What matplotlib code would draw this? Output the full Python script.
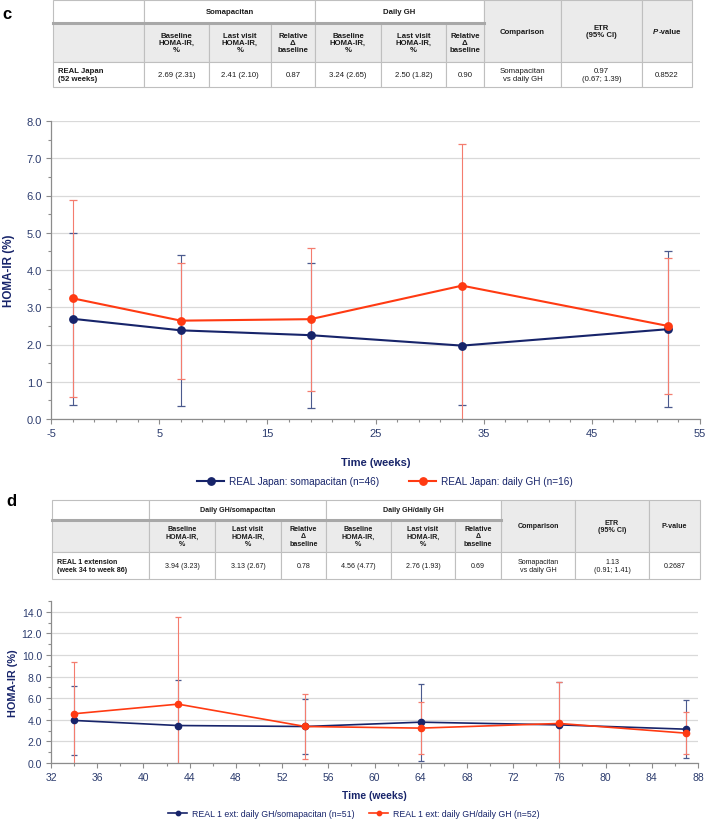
import matplotlib.pyplot as plt
from matplotlib.patches import Rectangle

plt.rcParams['font.family'] = ['Liberation Sans', 'DejaVu Sans']
plt.rcParams['axes.unicode_minus'] = False

# ---- data (panel c: REAL Japan) ----
c_weeks = [-3, 7, 19, 33, 52]
c_soma = [2.69, 2.38, 2.25, 1.97, 2.41]
c_soma_sd = [2.31, 2.02, 1.95, 1.60, 2.10]
c_daily = [3.24, 2.64, 2.68, 3.58, 2.50]
c_daily_sd = [2.65, 1.56, 1.92, 3.81, 1.82]
c_labels = ['REAL Japan: somapacitan (n=46)', 'REAL Japan: daily GH (n=16)']

# ---- data (panel d: REAL 1 extension) ----
d_weeks = [34, 43, 54, 64, 76, 87]
d_soma = [3.94, 3.47, 3.38, 3.78, 3.53, 3.13]
d_soma_sd = [3.23, 4.26, 2.53, 3.55, 3.95, 2.67]
d_daily = [4.56, 5.45, 3.38, 3.23, 3.66, 2.76]
d_daily_sd = [4.77, 8.10, 3.05, 2.43, 3.85, 1.93]
d_labels = ['REAL 1 ext: daily GH/somapacitan (n=51)', 'REAL 1 ext: daily GH/daily GH (n=52)']

# ---- tables ----
sub_headers = ['Baseline\nHOMA-IR,\n%', 'Last visit\nHOMA-IR,\n%', 'Relative\n\u0394\nbaseline'] * 2
right_headers = ['Comparison', 'ETR\n(95% CI)', 'P-value']
c_groups = ['Somapacitan', 'Daily GH']
c_row_label = 'REAL Japan\n(52 weeks)'
c_values = ['2.69 (2.31)', '2.41 (2.10)', '0.87', '3.24 (2.65)', '2.50 (1.82)', '0.90',
            'Somapacitan\nvs daily GH', '0.97\n(0.67; 1.39)', '0.8522']
d_groups = ['Daily GH/somapacitan', 'Daily GH/daily GH']
d_row_label = 'REAL 1 extension\n(week 34 to week 86)'
d_values = ['3.94 (3.23)', '3.13 (2.67)', '0.78', '4.56 (4.77)', '2.76 (1.93)', '0.69',
            'Somapacitan\nvs daily GH', '1.13\n(0.91; 1.41)', '0.2687']

NAVY = '#17246A'
RED = '#FF3A12'
NAVY_ERR = '#4B5A8E'
RED_ERR = '#F47C6E'
TICK = '#2C3C6E'
GRID = '#D9D9D9'
SPINE = '#8C8C8C'

W, H = 708, 829
fig = plt.figure(figsize=(W / 100, H / 100), dpi=100)
tab = fig.add_axes([0, 0, 1, 1])
tab.set_xlim(0, W)
tab.set_ylim(H, 0)
tab.axis('off')


def ax_rect(l, t, r, b):
    return [l / W, 1 - b / H, (r - l) / W, (b - t) / H]


def draw_table(xs, ys, groups, values, row_label, italic_p, fs):
    grey = '#EBEBEB'
    edge = '#BFBFBF'

    def cell(c0, c1, r0, r1, fill):
        tab.add_patch(Rectangle((xs[c0], ys[r0]), xs[c1] - xs[c0], ys[r1] - ys[r0],
                                facecolor=fill, edgecolor=edge, lw=0.8))

    cell(0, 1, 0, 1, 'white')
    cell(1, 4, 0, 1, 'white')
    cell(4, 7, 0, 1, 'white')
    for k in range(7, 10):
        cell(k, k + 1, 0, 2, grey)
    for k in range(7):
        cell(k, k + 1, 1, 2, grey)
    for k in range(10):
        cell(k, k + 1, 2, 3, 'white')
    tab.plot([xs[0], xs[7]], [ys[1], ys[1]], color='#A8A8A8', lw=2.2)

    def mid(a, b):
        return (a + b) / 2

    kw = dict(ha='center', va='center', fontsize=fs, color='#1A1A1A')
    tab.text(mid(xs[1], xs[4]), mid(ys[0], ys[1]), groups[0], fontweight='bold', **kw)
    tab.text(mid(xs[4], xs[7]), mid(ys[0], ys[1]), groups[1], fontweight='bold', **kw)
    for k, h in enumerate(sub_headers):
        tab.text(mid(xs[k + 1], xs[k + 2]), mid(ys[1], ys[2]), h, fontweight='bold',
                 linespacing=1.05, **kw)
    for k, h in enumerate(right_headers):
        cx, cy = mid(xs[7 + k], xs[8 + k]), mid(ys[0], ys[2])
        if h == 'P-value' and italic_p:
            x0 = cx - 14
            tab.text(x0, cy, 'P', ha='left', va='center', fontsize=fs, fontweight='bold',
                     fontstyle='italic', color='#1A1A1A')
            tab.text(x0 + 5.5, cy, '-value', ha='left', va='center', fontsize=fs,
                     fontweight='bold', color='#1A1A1A')
        else:
            tab.text(cx, cy, h, fontweight='bold', linespacing=1.1, **kw)
    cy = mid(ys[2], ys[3])
    tab.text(xs[0] + 5, cy, row_label, ha='left', va='center', fontsize=fs,
             fontweight='bold', linespacing=1.25, color='#1A1A1A')
    for k, v in enumerate(values):
        tab.text(mid(xs[k + 1], xs[k + 2]), cy, v, linespacing=1.25, **kw)


draw_table([53, 144, 209, 271, 315, 381, 446, 484, 561, 642, 692], [1, 24, 63, 88],
           c_groups, c_values, c_row_label, True, 5.6)
draw_table([52, 149, 215, 281, 326, 391, 455, 501, 575, 649, 700], [501, 521, 553, 580],
           d_groups, d_values, d_row_label, False, 5.1)

tab.text(2, 14, 'c', fontsize=12, fontweight='bold', va='center', ha='left')
tab.text(6, 502, 'd', fontsize=12, fontweight='bold', va='center', ha='left')


def style(ax, xticks, xminor, yticks, yminor, xlim, ylim, fs, lab_fs, xlab_y, ylab_x):
    ax.set_xlim(*xlim)
    ax.set_ylim(*ylim)
    ax.set_xticks(xticks)
    ax.set_xticks(xminor, minor=True)
    ax.set_yticks(yticks)
    ax.set_yticks(yminor, minor=True)
    ax.set_yticklabels(['%.1f' % v for v in yticks])
    ax.grid(axis='y', which='major', color=GRID, lw=0.9)
    ax.set_axisbelow(True)
    ax.patch.set_alpha(0)
    for s in ['top', 'right']:
        ax.spines[s].set_visible(False)
    for s in ['left', 'bottom']:
        ax.spines[s].set_color(SPINE)
        ax.spines[s].set_linewidth(0.9)
    ax.tick_params(which='both', color=SPINE, direction='out', width=0.8)
    ax.tick_params(which='major', length=3.5, labelsize=fs, labelcolor=TICK, pad=3)
    ax.tick_params(which='minor', length=2.5)
    ax.set_xlabel('Time (weeks)', fontsize=lab_fs, fontweight='bold', color=NAVY)
    ax.set_ylabel('HOMA-IR (%)', fontsize=lab_fs + 0.4, fontweight='bold', color=NAVY)
    ax.xaxis.label.set_va('center')
    ax.yaxis.label.set_va('center')
    ax.yaxis.label.set_ha('center')
    ax.xaxis.set_label_coords(0.5, xlab_y)
    ax.yaxis.set_label_coords(ylab_x, 0.5)


# ---- panel c chart ----
axc = fig.add_axes(ax_rect(51, 122, 700, 420))
axc.errorbar(c_weeks, c_soma, yerr=c_soma_sd, fmt='none', ecolor=NAVY_ERR,
             elinewidth=0.8, capsize=3, capthick=0.9)
axc.errorbar(c_weeks, c_daily, yerr=c_daily_sd, fmt='none', ecolor=RED_ERR,
             elinewidth=0.8, capsize=3, capthick=0.9)
lc1, = axc.plot(c_weeks, c_soma, '-o', color=NAVY, lw=1.5, ms=5.3, label=c_labels[0])
lc2, = axc.plot(c_weeks, c_daily, '-o', color=RED, lw=1.5, ms=5.3, label=c_labels[1])
style(axc, list(range(-5, 56, 10)), list(range(-5, 56, 2)),
      [0, 1, 2, 3, 4, 5, 6, 7, 8], [v / 2 for v in range(17)],
      (-5, 55), (0, 8), 8, 8, -(463 - 420) / 298, -(51 - 9) / 649)
fig.legend(handles=[lc1, lc2], loc='center', bbox_to_anchor=(385 / W, 1 - 482 / H),
           ncol=2, frameon=False, fontsize=7.2, handlelength=2.7, handletextpad=0.5,
           columnspacing=3.0, labelcolor=NAVY, markerscale=1.0)

# ---- panel d chart ----
axd = fig.add_axes(ax_rect(51, 602, 698, 764))
axd.errorbar(d_weeks, d_soma, yerr=d_soma_sd, fmt='none', ecolor=NAVY_ERR,
             elinewidth=0.8, capsize=2, capthick=0.9)
axd.errorbar(d_weeks, d_daily, yerr=d_daily_sd, fmt='none', ecolor=RED_ERR,
             elinewidth=0.8, capsize=2, capthick=0.9)
ld1, = axd.plot(d_weeks, d_soma, '-o', color=NAVY, lw=1.2, ms=4.5, label=d_labels[0])
ld2, = axd.plot(d_weeks, d_daily, '-o', color=RED, lw=1.2, ms=4.5, label=d_labels[1])
style(axd, list(range(32, 89, 4)), list(range(32, 89, 2)),
      list(range(0, 15, 2)), list(range(0, 16)),
      (32, 88), (0, 15), 7.5, 7.4, -(796 - 764) / 162, -(51 - 13) / 647)
fig.legend(handles=[ld1, ld2], loc='center', bbox_to_anchor=(354 / W, 1 - 815 / H),
           ncol=2, frameon=False, fontsize=6.3, handlelength=2.1, handletextpad=0.6,
           columnspacing=1.7, labelcolor=NAVY, markerscale=0.7)

fig.savefig('out.png', dpi=100)
